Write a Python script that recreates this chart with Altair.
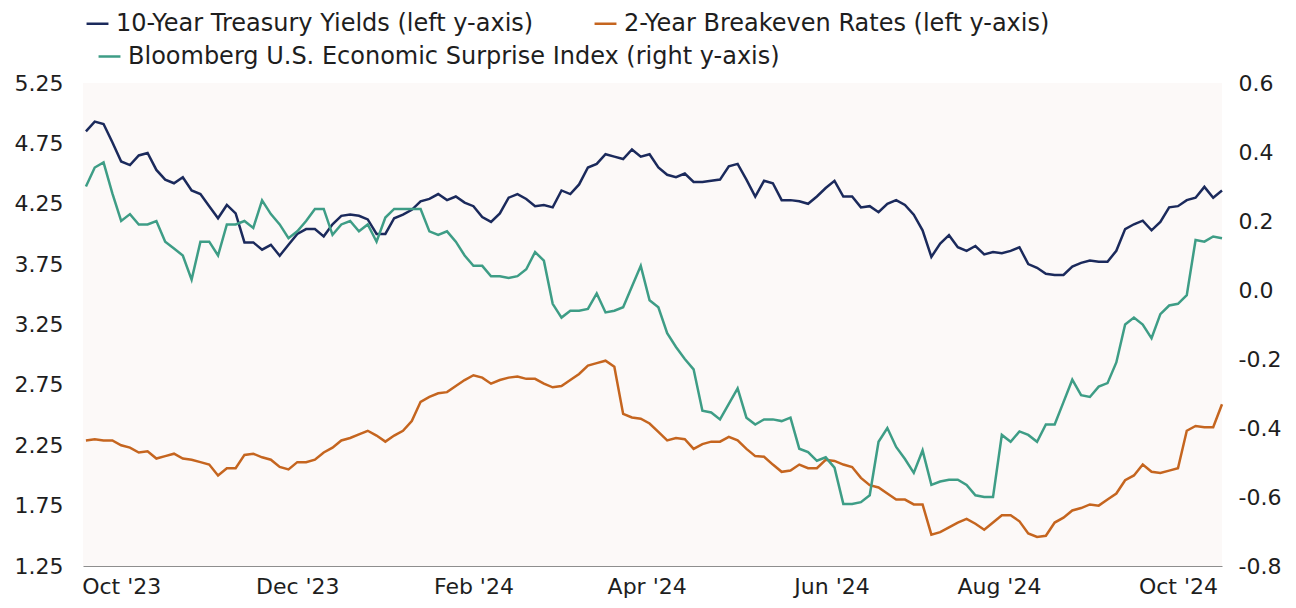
import altair as alt
import pandas as pd

# ---- data (one point every 3 calendar days) ----
start_date = "2023-10-17"
n_points = 130

ten_year = [
    4.85, 4.93, 4.91, 4.76, 4.60, 4.57, 4.65, 4.67, 4.53, 4.45,
    4.42, 4.47, 4.36, 4.33, 4.23, 4.13, 4.24, 4.17, 3.93, 3.93,
    3.87, 3.91, 3.82, 3.91, 4.00, 4.04, 4.04, 3.98, 4.08, 4.15,
    4.16, 4.15, 4.12, 4.00, 4.00, 4.13, 4.16, 4.20, 4.27, 4.29,
    4.33, 4.28, 4.31, 4.26, 4.23, 4.14, 4.10, 4.17, 4.30, 4.33,
    4.29, 4.23, 4.24, 4.22, 4.36, 4.33, 4.41, 4.55, 4.58, 4.66,
    4.64, 4.62, 4.70, 4.64, 4.66, 4.55, 4.49, 4.47, 4.50, 4.43,
    4.43, 4.44, 4.45, 4.56, 4.58, 4.45, 4.31, 4.44, 4.42, 4.28,
    4.28, 4.27, 4.25, 4.31, 4.38, 4.44, 4.31, 4.31, 4.22, 4.23,
    4.18, 4.25, 4.28, 4.24, 4.16, 4.03, 3.81, 3.92, 3.99, 3.89,
    3.86, 3.90, 3.83, 3.85, 3.84, 3.86, 3.89, 3.75, 3.72, 3.67,
    3.66, 3.66, 3.73, 3.76, 3.78, 3.77, 3.77, 3.86, 4.04, 4.08,
    4.11, 4.03, 4.10, 4.22, 4.23, 4.28, 4.30, 4.39, 4.30, 4.36,
]

two_year_be = [
    2.29, 2.30, 2.29, 2.29, 2.25, 2.23, 2.19, 2.20, 2.14, 2.16,
    2.18, 2.14, 2.13, 2.11, 2.09, 2.00, 2.06, 2.06, 2.17, 2.18,
    2.15, 2.13, 2.07, 2.05, 2.11, 2.11, 2.13, 2.19, 2.23, 2.29,
    2.31, 2.34, 2.37, 2.33, 2.28, 2.33, 2.37, 2.45, 2.61, 2.65,
    2.68, 2.69, 2.74, 2.79, 2.83, 2.81, 2.76, 2.79, 2.81, 2.82,
    2.80, 2.80, 2.76, 2.73, 2.74, 2.79, 2.84, 2.91, 2.93, 2.95,
    2.90, 2.51, 2.48, 2.47, 2.43, 2.36, 2.29, 2.31, 2.30, 2.22,
    2.26, 2.28, 2.28, 2.32, 2.29, 2.22, 2.16, 2.155, 2.09, 2.03,
    2.04, 2.09, 2.06, 2.06, 2.13, 2.12, 2.09, 2.07, 1.98, 1.92,
    1.90, 1.85, 1.80, 1.80, 1.76, 1.76, 1.51, 1.53, 1.57, 1.61,
    1.64, 1.60, 1.55, 1.61, 1.67, 1.67, 1.62, 1.52, 1.49, 1.50,
    1.61, 1.65, 1.71, 1.73, 1.76, 1.75, 1.80, 1.85, 1.96, 2.00,
    2.09, 2.03, 2.02, 2.04, 2.06, 2.37, 2.41, 2.40, 2.40, 2.59,
]

surprise_index = [
    0.30, 0.355, 0.37, 0.28, 0.20, 0.22, 0.19, 0.19, 0.20, 0.14,
    0.12, 0.10, 0.03, 0.14, 0.14, 0.10, 0.19, 0.19, 0.20, 0.18,
    0.26, 0.22, 0.19, 0.15, 0.17, 0.20, 0.235, 0.235, 0.16, 0.19,
    0.20, 0.17, 0.19, 0.14, 0.21, 0.235, 0.235, 0.235, 0.235, 0.17,
    0.16, 0.17, 0.14, 0.10, 0.07, 0.07, 0.04, 0.04, 0.035, 0.04,
    0.06, 0.11, 0.085, -0.04, -0.08, -0.06, -0.06, -0.055, -0.01, -0.065,
    -0.06, -0.05, 0.01, 0.07, -0.03, -0.05, -0.125, -0.165, -0.20, -0.23,
    -0.35, -0.355, -0.375, -0.33, -0.285, -0.37, -0.39, -0.375, -0.375, -0.38,
    -0.37, -0.46, -0.47, -0.495, -0.485, -0.515, -0.62, -0.62, -0.615, -0.595,
    -0.44, -0.40, -0.455, -0.49, -0.53, -0.465, -0.565, -0.555, -0.55, -0.55,
    -0.565, -0.595, -0.60, -0.60, -0.42, -0.44, -0.41, -0.42, -0.44, -0.39,
    -0.39, -0.325, -0.26, -0.305, -0.31, -0.28, -0.27, -0.21, -0.10, -0.08,
    -0.10, -0.14, -0.07, -0.045, -0.04, -0.015, 0.145, 0.14, 0.155, 0.15,
]

left_names = [
    "10-Year Treasury Yields (left y-axis)",
    "2-Year Breakeven Rates (left y-axis)",
]
right_names = ["Bloomberg U.S. Economic Surprise Index (right y-axis)"]
left_colors = ["#1b2a5c", "#c5651f"]
right_colors = ["#3e9d86"]

left_ticks = [1.25, 1.75, 2.25, 2.75, 3.25, 3.75, 4.25, 4.75, 5.25]
right_ticks = [-0.8, -0.6, -0.4, -0.2, 0.0, 0.2, 0.4, 0.6]
x_tick_dates = [
    (2023, 10, 29), (2023, 12, 28), (2024, 2, 26), (2024, 4, 25),
    (2024, 6, 27), (2024, 8, 23), (2024, 10, 23),
]

# ---- tables ----
dates = pd.date_range(start_date, periods=n_points, freq="3D")
df_left = pd.concat([
    pd.DataFrame({"date": dates, "value": ten_year, "series": left_names[0]}),
    pd.DataFrame({"date": dates, "value": two_year_be, "series": left_names[1]}),
])
df_right = pd.DataFrame({"date": dates, "value": surprise_index, "series": right_names[0]})

FONT = "DejaVu Sans"
TXT = "#1e1e1e"
LEG_SIZE = 24

x_scale = alt.Scale(domain=[alt.DateTime(year=2023, month=10, date=16),
                            alt.DateTime(year=2024, month=11, date=7)])
x_axis = alt.Axis(
    values=[alt.DateTime(year=y, month=m, date=d) for (y, m, d) in x_tick_dates],
    format="%b '%y", title=None, labelPadding=10, labelOverlap=False,
    labelFlush=False, labelBound=False,
)


def legend(x, y, pad):
    return alt.Legend(
        title=None, orient="none", legendX=x, legendY=y,
        direction="horizontal", symbolType="stroke", symbolStrokeWidth=2.5,
        symbolSize=480, labelFont=FONT, labelFontSize=LEG_SIZE, labelColor=TXT,
        labelLimit=0, columnPadding=pad, labelOffset=6,
    )


left = alt.Chart(df_left).mark_line(strokeWidth=2.5).encode(
    x=alt.X("date:T", scale=x_scale, axis=x_axis),
    y=alt.Y("value:Q", scale=alt.Scale(domain=[1.25, 5.25], nice=False, zero=False),
            axis=alt.Axis(values=left_ticks, format=".2f", title=None,
                          labelPadding=20, orient="left")),
    color=alt.Color("series:N",
                    scale=alt.Scale(domain=left_names, range=left_colors),
                    legend=legend(2, -72, 55)),
)

right = alt.Chart(df_right).mark_line(strokeWidth=2.5).encode(
    x=alt.X("date:T", scale=x_scale, axis=x_axis),
    y=alt.Y("value:Q", scale=alt.Scale(domain=[-0.8, 0.6], nice=False, zero=False),
            axis=alt.Axis(values=right_ticks, title=None, orient="right",
                          labelPadding=16,
                          labelExpr="datum.value < -0.001 ? '-' + format(abs(datum.value), '.1f') : format(abs(datum.value), '.1f')")),
    color=alt.Color("series:N",
                    scale=alt.Scale(domain=right_names, range=right_colors),
                    legend=legend(14, -39, 20)),
)

chart = (
    alt.layer(left, right)
    .resolve_scale(y="independent", color="independent")
    .properties(width=1139, height=483, autosize="none",
                padding={"left": 75, "top": 75, "right": 66, "bottom": 34},
                background="white")
    .configure_view(fill="#fcf9f8", stroke=None)
    .configure_axis(labelFont=FONT, labelFontSize=22, labelColor=TXT,
                    ticks=False, grid=False, domain=False)
    .configure_axisX(domain=True, domainColor="#8e8e8e", domainWidth=1.2)
)

chart.save("out.html", embed_options={"renderer": "svg", "actions": False})
